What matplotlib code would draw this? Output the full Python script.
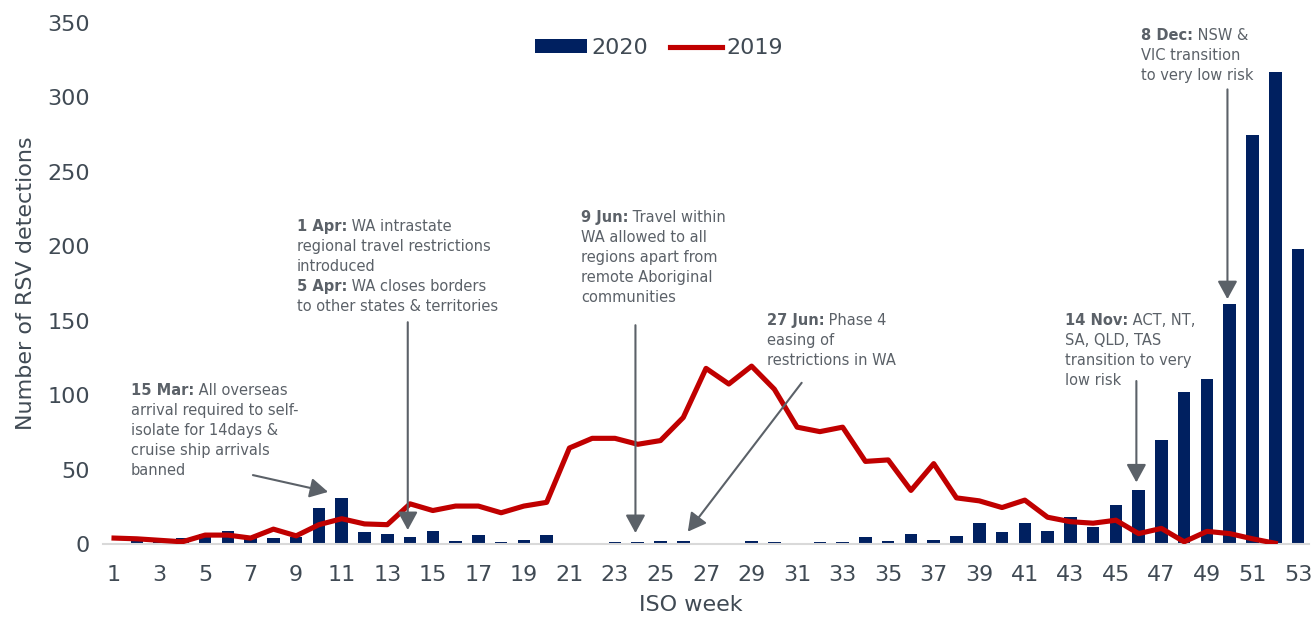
import numpy as np
import matplotlib.pyplot as plt

plt.rcParams['font.family'] = ['DejaVu Sans']

# weekly RSV detections
weeks = list(range(1, 54))
rsv_2020 = [1, 3, 2, 4, 7, 9, 4, 4, 5, 24, 31, 8, 7, 5, 9, 2, 6, 1.5, 3, 6,
            0.5, 0, 1.5, 1.5, 2, 2, 0.5, 0.5, 2, 1.5, 0.5, 1.5, 1.5, 4.5, 2, 7, 3, 5.5, 14, 8,
            14, 9, 18, 11.5, 26, 36, 70, 102, 111, 161, 275, 317, 198]
weeks_2019 = list(range(1, 53))
rsv_2019 = [4, 3.5, 2.5, 1.5, 6, 6, 4, 10, 5.5, 13, 17, 13.5, 13, 27, 22.5, 25.5, 25.5, 21, 25.5, 28,
            64.5, 71, 71, 67, 69.5, 85, 118, 107.5, 119.5, 104, 78.5, 75.5, 78.5, 55.5, 56.5, 36, 54, 31, 29, 24.5,
            29.5, 18, 15, 14, 16, 7, 10.5, 1.5, 8.5, 7, 3.5, 0.5]

# annotations: (x, y) of first line, bold prefix, lines, arrow start, arrow end
notes = [
    (1.75, 103.4, '15 Mar:', [' All overseas', 'arrival required to self-', 'isolate for 14days &',
                              'cruise ship arrivals', 'banned'], (7.1, 46.3), (10.4, 35)),
    (9.02, 213.1, '1 Apr:', [' WA intrastate', 'regional travel restrictions', 'introduced'],
     (13.9, 149), (13.9, 9.4)),
    (21.5, 219.6, '9 Jun:', [' Travel within', 'WA allowed to all', 'regions apart from',
                             'remote Aboriginal', 'communities'], (23.9, 147), (23.9, 7.4)),
    (29.67, 150.4, '27 Jun:', [' Phase 4', 'easing of', 'restrictions in WA'], (31.2, 108.3), (26.2, 8.3)),
    (42.77, 150.4, '14 Nov:', [' ACT, NT,', 'SA, QLD, TAS', 'transition to very', 'low risk'],
     (45.9, 109.5), (45.9, 41.4)),
    (46.09, 341.8, '8 Dec:', [' NSW &', 'VIC transition', 'to very low risk'], (49.9, 305.4), (49.9, 164.5)),
]

navy = '#002060'
red = '#c00000'
txt = '#404a54'
grey = '#5b6168'

fig = plt.figure(figsize=(13.16, 6.18), dpi=100)
ax = fig.add_axes([0.078, 0.1197, 0.917, 0.8431])

bars = ax.bar(weeks, rsv_2020, width=0.55, color=navy, label='2020', zorder=2)
line, = ax.plot(weeks_2019, rsv_2019, color=red, lw=3.7, label='2019', zorder=3)

ax.set_xlim(0.5, 53.5)
ax.set_ylim(0, 350)
ax.set_xticks(range(1, 54, 2))
ax.set_yticks(range(0, 351, 50))
ax.tick_params(length=0, labelsize=16, labelcolor=txt)
ax.tick_params(axis='x', pad=15)
ax.tick_params(axis='y', pad=9)
for s in ['top', 'right', 'left']:
    ax.spines[s].set_visible(False)
ax.spines['bottom'].set_color('#d9d9d9')
ax.spines['bottom'].set_linewidth(1.5)

ax.set_xlabel('ISO week', fontsize=16, color=txt)
ax.xaxis.set_label_coords(0.4876, -0.098)
ax.set_ylabel('Number of RSV detections', fontsize=16, color=txt, labelpad=8)

ax.legend([bars, line], ['2020', '2019'], loc='center', bbox_to_anchor=(0.461, 0.952), ncol=2,
          frameon=False, fontsize=16, labelcolor=txt, handlelength=2.35, handleheight=0.55,
          handletextpad=0.2, columnspacing=0.95)

step = 14.4  # points between lines
fs = 10.5
for x, y, bold, lines, a0, a1 in notes:
    t = ax.text(x, y, bold, fontsize=fs, fontweight='bold', color=grey, va='center', ha='left')
    ax.annotate(lines[0], xy=(1, 0.5), xycoords=t, va='center', ha='left', fontsize=fs, color=grey)
    for i, ln in enumerate(lines[1:], start=1):
        ax.annotate(ln, xy=(x, y), xytext=(0, -step * i), textcoords='offset points',
                    va='center', ha='left', fontsize=fs, color=grey)
    ax.annotate('', xy=a1, xytext=a0,
                arrowprops=dict(arrowstyle='-|>,head_length=0.55,head_width=0.3', mutation_scale=20,
                                lw=1.5, color=grey, shrinkA=0, shrinkB=0), zorder=4)

# second note under 1 Apr
t = ax.annotate('5 Apr:', xy=(9.02, 213.1), xytext=(0, -step * 3), textcoords='offset points',
                va='center', ha='left', fontsize=fs, fontweight='bold', color=grey)
ax.annotate(' WA closes borders', xy=(1, 0.5), xycoords=t, va='center', ha='left', fontsize=fs, color=grey)
ax.annotate('to other states & territories', xy=(9.02, 213.1), xytext=(0, -step * 4),
            textcoords='offset points', va='center', ha='left', fontsize=fs, color=grey)

fig.savefig('out.png', dpi=100)
